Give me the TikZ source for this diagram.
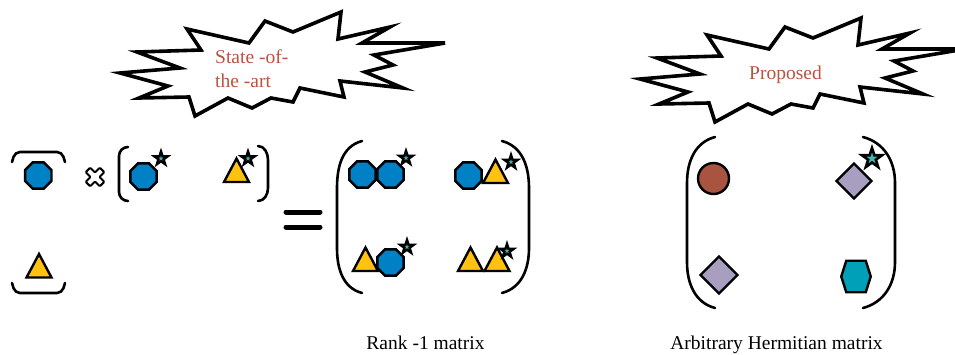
\documentclass[tikz,border=0pt]{standalone}
\usepackage{fontspec}
\setmainfont{Liberation Serif}
\usetikzlibrary{shapes.geometric}
\definecolor{dotblue}{RGB}{0,128,197}
\definecolor{triyellow}{RGB}{255,194,14}
\definecolor{dotbrown}{RGB}{168,84,64}
\definecolor{lilac}{RGB}{168,158,192}
\definecolor{hexteal}{RGB}{0,160,184}
\definecolor{starteal}{RGB}{70,178,180}
\definecolor{labelred}{RGB}{184,84,64}
\tikzset{
  shp/.style={draw=black,line width=2.4pt,inner sep=0pt,outer sep=0pt},
  ball/.style={shp,regular polygon,regular polygon sides=8,minimum size=28.5pt,fill=dotblue},
  tri/.style={shp,isosceles triangle,shape border rotate=90,isosceles triangle stretches,
    minimum width=25pt,minimum height=23.5pt,fill=triyellow},
  sparkle/.style={shp,star,star points=5,star point ratio=2.6,minimum size=14pt,line width=2.4pt,fill=starteal},
  gem/.style={shp,diamond,aspect=1,minimum size=35pt,fill=lilac},
  brk/.style={line width=2.6pt,line cap=round},
  burst/.style={line width=3.6pt,line join=miter,fill=white},
  lbl/.style={font=\fontsize{19.5}{24}\selectfont,inner sep=0pt}
}
\begin{document}
\begin{tikzpicture}[x=1pt,y=-1pt]
  \useasboundingbox (0,0) rectangle (955,354);
  % starbursts
  \foreach \dx/\dy in {0/0,520/6}{
    \draw[burst,shift={(\dx,\dy)}] (120,73) -- (180,68) -- (137,52) -- (201,50) -- (187,29)
      -- (249,43) -- (265,21) -- (293,32) -- (341,12) -- (338,39) -- (390,27) -- (362,43)
      -- (445,43) -- (374,55) -- (393,65) -- (365,72) -- (403,88) -- (340,81) -- (344,97)
      -- (300,88) -- (293,102) -- (271,98) -- (252,108) -- (228,98) -- (195,116) -- (189,97)
      -- (139,98) -- (168,86) -- cycle;
  }
  \node[lbl,text=labelred,anchor=base west] (sota1) at (215,63) {State -of-};
  \node[lbl,text=labelred,anchor=base west] (sota2) at (215,87) {the -art};
  \node[lbl,text=labelred,anchor=base west] (prop) at (749,79) {Proposed};

  % column vector
  \draw[brk,rounded corners=5pt] (12,162) -- (15,152) -- (62,152) -- (65,162);
  \node[ball] (u1) at (38.3,175.5) {};
  \node[tri] (u2) at (39,270) {};
  \draw[brk,rounded corners=5pt] (12,283) -- (15,293) -- (62,293) -- (65,283);

  \coordinate (times) at (95,177);
  \draw[line width=2pt,fill=white,rounded corners=1pt,shift={(times)},rotate=45]
    (-3.2,-10) -- (3.2,-10) -- (3.2,-3.2) -- (10,-3.2) -- (10,3.2) -- (3.2,3.2)
    -- (3.2,10) -- (-3.2,10) -- (-3.2,3.2) -- (-10,3.2) -- (-10,-3.2) -- (-3.2,-3.2) -- cycle;

  % row vector
  \draw[brk] (128,147) to[out=180,in=90] (119,156) -- (119,192) to[out=-90,in=180] (128,201);
  \node[ball] (v1) at (143.5,176.5) {};
  \node[sparkle] (v1s) at (161,158.5) {};
  \node[tri] (v2) at (236.5,174.5) {};
  \node[sparkle] (v2s) at (248,158.5) {};
  \draw[brk] (258,146) to[out=0,in=90] (268,160) -- (268,188) to[out=-90,in=0] (258,201);

  \draw[line width=5pt,line cap=round] (286,212) -- (320,212) (286,227) -- (320,227);

  % rank-1 matrix
  \draw[brk] (362,141) to[out=195,in=90] (337,188) -- (337,248) to[out=-90,in=165] (362,293);
  \draw[brk] (502,141) to[out=-15,in=90] (529,188) -- (529,248) to[out=-90,in=15] (502,293);
  \node[ball] (a11) at (362.5,174.5) {};
  \node[ball] (a11b) at (390.5,174.5) {};
  \node[sparkle] (a11s) at (406,158) {};
  \node[ball] (a12) at (468.5,175.5) {};
  \node[tri] (a12b) at (495.5,175.5) {};
  \node[sparkle] (a12s) at (511,162) {};
  \node[tri] (a21) at (365.5,263.5) {};
  \node[ball] (a21b) at (390.5,262.5) {};
  \node[sparkle] (a21s) at (407,247) {};
  \node[tri] (a22) at (470.5,263.5) {};
  \node[tri] (a22b) at (497,263.5) {};
  \node[sparkle] (a22s) at (507,251) {};
  \node[lbl,anchor=base] (rank1) at (425.5,349.5) {Rank -1 matrix};

  % hermitian matrix
  \draw[brk] (715,137) to[out=195,in=90] (687,183) -- (687,262) to[out=-90,in=165] (715,308);
  \draw[brk] (863,137) to[out=-15,in=90] (895,183) -- (895,262) to[out=-90,in=15] (863,308);
  \node[shp,circle,minimum size=31pt,fill=dotbrown] (h11) at (713.5,178.5) {};
  \node[gem] (h12) at (854,181) {};
  \node[sparkle,minimum size=21pt,line width=2.6pt] (h12s) at (872,158.5) {};
  \node[gem,minimum size=37pt] (h21) at (719,275) {};
  \coordinate (h22) at (856,276.5);
  \draw[line width=2.4pt,fill=hexteal] ([shift={(-14.75,0)}]h22) -- ++(5,-15.75) -- ++(19.5,0)
    -- ++(5,15.75) -- ++(-5,15.75) -- ++(-19.5,0) -- cycle;
  \node[lbl,anchor=base] (herm) at (776.5,349.5) {Arbitrary Hermitian matrix};
\end{tikzpicture}
\end{document}
